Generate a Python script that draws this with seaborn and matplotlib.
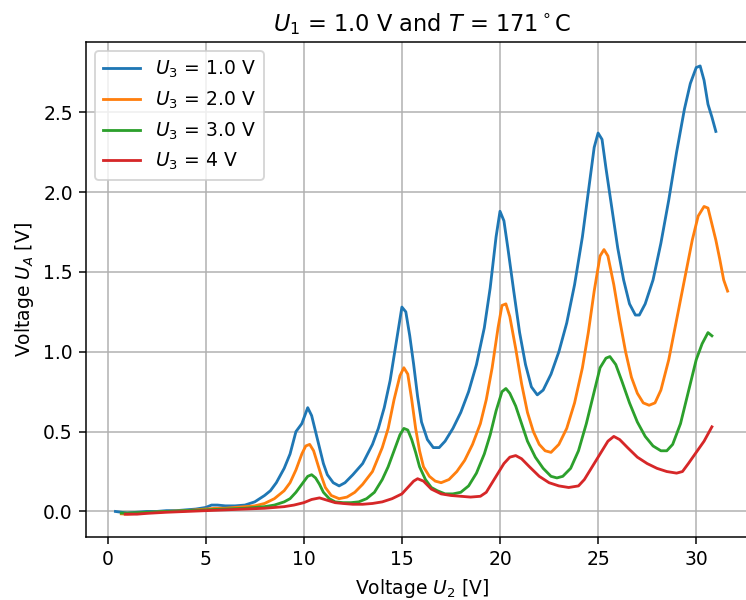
import numpy as np
import pandas as pd
import matplotlib
matplotlib.use("Agg")
import matplotlib.pyplot as plt
import seaborn as sns

labels = ["$U_3$ = 1.0 V", "$U_3$ = 2.0 V", "$U_3$ = 3.0 V", "$U_3$ = 4 V"]

u2_a = [0.4, 1, 1.5, 2, 2.5, 3, 3.5, 4, 4.5, 5, 5.3, 5.6, 6, 6.5, 7, 7.5, 8, 8.3, 8.6, 9, 9.3, 9.6, 9.9, 10.2, 10.4, 10.6,
        10.8, 11.0, 11.2, 11.5, 11.8, 12.1, 12.5, 13, 13.5, 13.8, 14.1, 14.4, 14.7, 15.0, 15.2, 15.4, 15.6, 15.8, 16.0,
        16.3, 16.6, 16.9, 17.2, 17.6, 18, 18.4, 18.8, 19.2, 19.5, 19.8, 20.0, 20.2, 20.4, 20.7, 21.0, 21.3, 21.6, 21.9,
        22.2, 22.6, 23, 23.4, 23.8, 24.2, 24.5, 24.8, 25.0, 25.2, 25.4, 25.7, 26.0, 26.3, 26.6, 26.9, 27.1, 27.4, 27.8,
        28.2, 28.6, 29.0, 29.4, 29.7, 30.0, 30.2, 30.4, 30.6, 30.8, 31.0]
ua_a = [0.0, -0.01, -0.005, 0.0, 0.0, 0.005, 0.005, 0.01, 0.015, 0.025, 0.04, 0.04, 0.035, 0.035, 0.04, 0.06, 0.10, 0.13,
        0.18, 0.27, 0.36, 0.50, 0.55, 0.65, 0.60, 0.50, 0.40, 0.30, 0.23, 0.18, 0.16, 0.18, 0.23, 0.30, 0.42, 0.52, 0.65,
        0.82, 1.05, 1.28, 1.25, 1.10, 0.92, 0.72, 0.56, 0.45, 0.40, 0.40, 0.44, 0.52, 0.62, 0.75, 0.92, 1.15, 1.40, 1.72,
        1.88, 1.82, 1.65, 1.38, 1.12, 0.92, 0.78, 0.73, 0.76, 0.86, 1.00, 1.18, 1.42, 1.72, 2.00, 2.28, 2.37, 2.33, 2.15,
        1.90, 1.65, 1.45, 1.30, 1.23, 1.23, 1.30, 1.45, 1.68, 1.95, 2.25, 2.52, 2.68, 2.78, 2.79, 2.70, 2.55, 2.47, 2.38]

u2_b = [0.7, 1, 1.5, 2, 3, 4, 5, 5.5, 6, 6.5, 7, 7.5, 8, 8.5, 9, 9.3, 9.6, 9.9, 10.1, 10.3, 10.5, 10.7, 10.9, 11.1, 11.4,
        11.8, 12.2, 12.6, 13, 13.5, 14, 14.3, 14.6, 14.9, 15.1, 15.3, 15.5, 15.7, 15.9, 16.1, 16.4, 16.7, 17.0, 17.4,
        17.8, 18.2, 18.6, 19, 19.3, 19.6, 19.9, 20.1, 20.3, 20.5, 20.8, 21.1, 21.4, 21.7, 22.0, 22.3, 22.6, 23, 23.4,
        23.8, 24.2, 24.5, 24.8, 25.1, 25.3, 25.5, 25.8, 26.1, 26.4, 26.7, 27.0, 27.3, 27.6, 27.9, 28.2, 28.6, 29, 29.4,
        29.8, 30.1, 30.4, 30.6, 30.8, 31.0, 31.2, 31.4, 31.6]
ua_b = [-0.015, -0.017, -0.012, -0.008, 0.0, 0.005, 0.015, 0.02, 0.02, 0.025, 0.03, 0.035, 0.05, 0.08, 0.13, 0.18, 0.26,
        0.36, 0.41, 0.42, 0.38, 0.30, 0.22, 0.15, 0.10, 0.08, 0.09, 0.12, 0.17, 0.25, 0.40, 0.52, 0.70, 0.85, 0.90, 0.86,
        0.70, 0.52, 0.38, 0.28, 0.22, 0.19, 0.18, 0.20, 0.25, 0.32, 0.42, 0.55, 0.70, 0.90, 1.15, 1.29, 1.30, 1.22, 1.02,
        0.80, 0.62, 0.50, 0.42, 0.38, 0.37, 0.42, 0.52, 0.68, 0.90, 1.12, 1.38, 1.60, 1.64, 1.60, 1.42, 1.20, 1.00, 0.84,
        0.74, 0.68, 0.665, 0.68, 0.76, 0.95, 1.20, 1.45, 1.70, 1.85, 1.91, 1.90, 1.80, 1.70, 1.58, 1.45, 1.38]

u2_c = [0.7, 1, 2, 3, 4, 5, 6, 7, 7.5, 8, 8.5, 9, 9.3, 9.6, 9.9, 10.2, 10.4, 10.6, 10.8, 11.0, 11.3, 11.6, 12.0, 12.4,
        12.8, 13.2, 13.6, 14.0, 14.3, 14.6, 14.9, 15.1, 15.3, 15.5, 15.7, 15.9, 16.2, 16.5, 16.8, 17.2, 17.6, 18.0, 18.4,
        18.8, 19.2, 19.5, 19.8, 20.1, 20.3, 20.5, 20.8, 21.1, 21.4, 21.8, 22.2, 22.6, 22.9, 23.2, 23.6, 24.0, 24.4, 24.8,
        25.1, 25.4, 25.6, 25.9, 26.2, 26.6, 27.0, 27.4, 27.8, 28.2, 28.5, 28.8, 29.2, 29.6, 30.0, 30.3, 30.6, 30.8]
ua_c = [-0.01, -0.01, -0.005, 0.0, 0.005, 0.01, 0.015, 0.02, 0.025, 0.03, 0.04, 0.06, 0.08, 0.12, 0.17, 0.22, 0.23, 0.21,
        0.17, 0.12, 0.08, 0.06, 0.055, 0.055, 0.06, 0.08, 0.12, 0.20, 0.28, 0.38, 0.48, 0.52, 0.51, 0.45, 0.37, 0.28,
        0.20, 0.15, 0.13, 0.11, 0.11, 0.12, 0.16, 0.24, 0.36, 0.48, 0.63, 0.75, 0.77, 0.74, 0.66, 0.55, 0.44, 0.34, 0.27,
        0.22, 0.21, 0.22, 0.27, 0.38, 0.55, 0.75, 0.90, 0.96, 0.97, 0.92, 0.82, 0.68, 0.56, 0.47, 0.41, 0.38, 0.38, 0.42,
        0.55, 0.75, 0.95, 1.05, 1.12, 1.10]

u2_d = [0.9, 1.5, 2, 3, 4, 5, 6, 7, 8, 9, 9.5, 10, 10.4, 10.8, 11.2, 11.6, 12, 12.5, 13, 13.5, 14, 14.5, 15, 15.3, 15.6,
        15.8, 16.1, 16.5, 17, 17.5, 18, 18.5, 19, 19.3, 19.6, 19.9, 20.2, 20.5, 20.8, 21.1, 21.5, 22, 22.5, 23, 23.5, 24,
        24.3, 24.6, 24.9, 25.2, 25.5, 25.8, 26.1, 26.5, 27, 27.5, 28, 28.5, 29, 29.3, 29.6, 30, 30.4, 30.8]
ua_d = [-0.017, -0.017, -0.012, -0.005, 0.0, 0.005, 0.01, 0.015, 0.02, 0.03, 0.04, 0.055, 0.075, 0.085, 0.07, 0.055, 0.05,
        0.045, 0.045, 0.05, 0.06, 0.08, 0.11, 0.15, 0.19, 0.205, 0.19, 0.14, 0.11, 0.10, 0.095, 0.09, 0.095, 0.12, 0.18,
        0.24, 0.30, 0.34, 0.35, 0.33, 0.28, 0.22, 0.18, 0.16, 0.15, 0.16, 0.20, 0.26, 0.32, 0.38, 0.44, 0.47, 0.45, 0.40,
        0.34, 0.30, 0.27, 0.25, 0.24, 0.25, 0.30, 0.37, 0.44, 0.53]

series = [(u2_a, ua_a), (u2_b, ua_b), (u2_c, ua_c), (u2_d, ua_d)]
frames = []
for lab, (xs, ys) in zip(labels, series):
    assert len(xs) == len(ys), (lab, len(xs), len(ys))
    frames.append(pd.DataFrame({"U2": xs, "UA": ys, "series": lab}))
df = pd.concat(frames, ignore_index=True)

plt.rcParams["font.family"] = ["DejaVu Sans"]
DPI = 135
fig = plt.figure(figsize=(746 / DPI, 600 / DPI), dpi=DPI)
ax = fig.add_axes([86 / 746, 63 / 600, 673 / 746, 495 / 600])
palette = ["#1f77b4", "#ff7f0e", "#2ca02c", "#d62728"]
sns.lineplot(data=df, x="U2", y="UA", hue="series", palette=palette, sort=False,
             estimator=None, ax=ax, linewidth=1.5)
ax.grid(True, color="#b0b0b0", linewidth=0.8)
ax.set_axisbelow(True)
ax.set_xlabel("Voltage $U_2$ [V]", fontsize=10)
ax.set_ylabel("Voltage $U_A$ [V]", fontsize=10)
ax.set_title("$U_1$ = 1.0 V and $T$ = 171$^\\circ$C", fontsize=12)
ax.set_xlim(-1.1, 33.2)
ax.set_ylim(-0.16, 2.94)
ax.set_xticks([0, 5, 10, 15, 20, 25, 30])
ax.set_yticks([0.0, 0.5, 1.0, 1.5, 2.0, 2.5])
ax.tick_params(labelsize=10)
ax.legend(loc="upper left", title=None, fontsize=10)
fig.savefig("out.png", dpi=DPI)
